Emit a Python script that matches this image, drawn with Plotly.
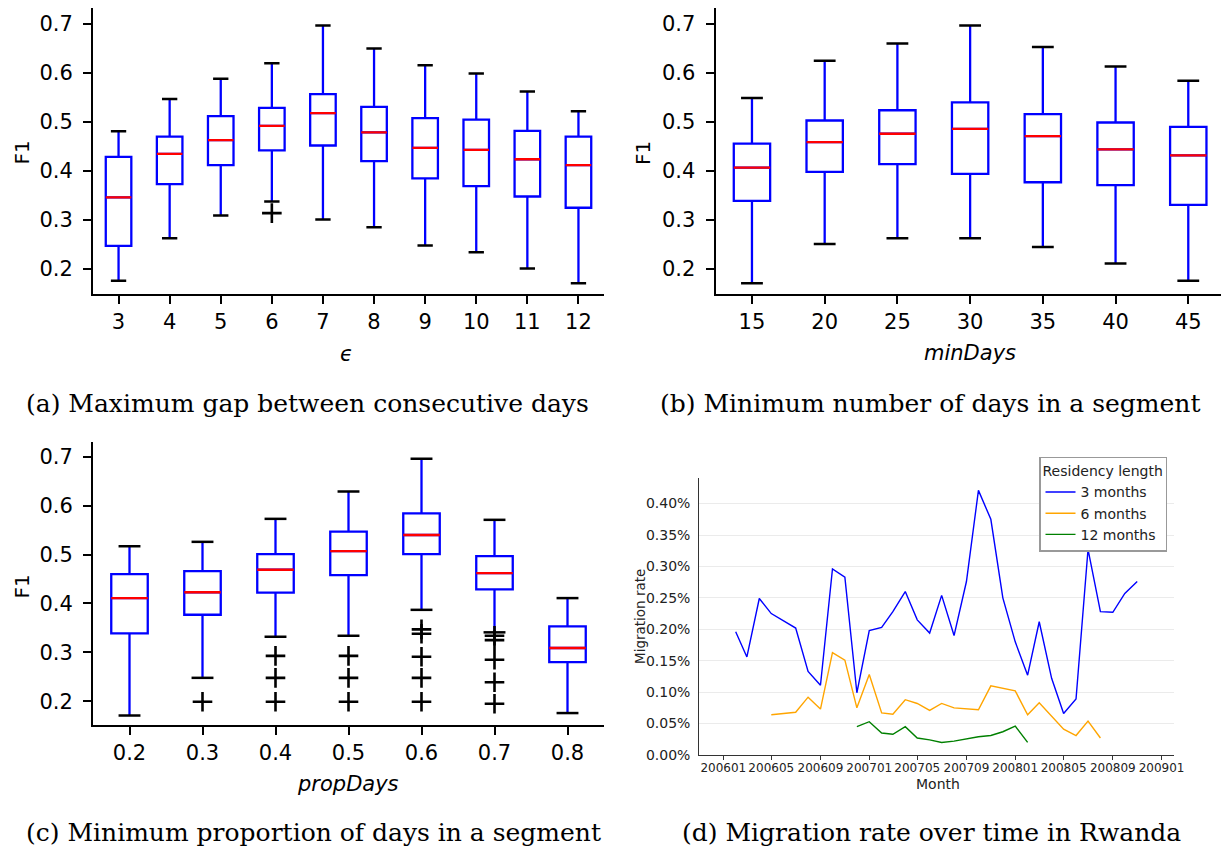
import plotly.graph_objects as go
import pandas as pd

W, H = 1221, 850

# ---------------- data ----------------
# (a) epsilon
eps_labels = ["3", "4", "5", "6", "7", "8", "9", "10", "11", "12"]
eps_upper = [0.481, 0.547, 0.588, 0.620, 0.697, 0.650, 0.616, 0.599, 0.562, 0.522]
eps_q3 = [0.429, 0.470, 0.512, 0.529, 0.557, 0.531, 0.508, 0.505, 0.482, 0.470]
eps_median = [0.346, 0.435, 0.463, 0.492, 0.518, 0.479, 0.447, 0.443, 0.424, 0.412]
eps_q1 = [0.247, 0.373, 0.412, 0.442, 0.452, 0.420, 0.385, 0.369, 0.348, 0.325]
eps_lower = [0.176, 0.263, 0.309, 0.338, 0.301, 0.285, 0.248, 0.234, 0.201, 0.171]
eps_outliers = [[], [], [], [0.314], [], [], [], [], [], []]

# (b) minDays
md_labels = ["15", "20", "25", "30", "35", "40", "45"]
md_upper = [0.549, 0.625, 0.660, 0.697, 0.653, 0.613, 0.584]
md_q3 = [0.456, 0.503, 0.524, 0.540, 0.516, 0.499, 0.490]
md_median = [0.407, 0.459, 0.476, 0.486, 0.471, 0.444, 0.432]
md_q1 = [0.339, 0.398, 0.414, 0.394, 0.377, 0.371, 0.331]
md_lower = [0.171, 0.251, 0.263, 0.263, 0.245, 0.211, 0.176]
md_outliers = [[], [], [], [], [], [], []]

# (c) propDays
pd_labels = ["0.2", "0.3", "0.4", "0.5", "0.6", "0.7", "0.8"]
pd_upper = [0.517, 0.526, 0.573, 0.629, 0.696, 0.571, 0.411]
pd_q3 = [0.460, 0.466, 0.501, 0.547, 0.584, 0.497, 0.353]
pd_median = [0.411, 0.423, 0.469, 0.507, 0.540, 0.462, 0.309]
pd_q1 = [0.339, 0.377, 0.422, 0.458, 0.501, 0.429, 0.280]
pd_lower = [0.171, 0.248, 0.332, 0.334, 0.387, 0.341, 0.176]
pd_outliers = [[], [0.199], [0.293, 0.248, 0.199], [0.293, 0.248, 0.199],
               [0.347, 0.338, 0.291, 0.248, 0.199],
               [0.334, 0.325, 0.285, 0.239, 0.195], []]

# (d) migration rate (%)
months_3 = ["200602", "200603", "200604", "200605", "200607", "200608", "200609",
            "200610", "200611", "200612", "200701", "200702", "200703", "200704",
            "200705", "200706", "200707", "200708", "200709", "200710", "200711",
            "200712", "200801", "200802", "200803", "200804", "200805", "200806",
            "200807", "200808", "200809", "200810", "200811"]
rate_3 = [0.196, 0.156, 0.249, 0.225, 0.202, 0.133, 0.111, 0.296, 0.283, 0.099,
          0.198, 0.203, 0.228, 0.260, 0.215, 0.194, 0.254, 0.190, 0.276, 0.421,
          0.375, 0.250, 0.180, 0.127, 0.212, 0.122, 0.066, 0.089, 0.327, 0.228,
          0.227, 0.257, 0.276]
months_6 = ["200605", "200607", "200608", "200609", "200610", "200611", "200612",
            "200701", "200702", "200703", "200704", "200705", "200706", "200707",
            "200708", "200710", "200711", "200801", "200802", "200803", "200805",
            "200806", "200807", "200808"]
rate_6 = [0.064, 0.068, 0.092, 0.073, 0.163, 0.151, 0.075, 0.128, 0.067, 0.065,
          0.088, 0.082, 0.071, 0.082, 0.075, 0.072, 0.110, 0.102, 0.064, 0.083,
          0.041, 0.031, 0.054, 0.027]
months_12 = ["200612", "200701", "200702", "200703", "200704", "200705", "200706",
             "200707", "200708", "200710", "200711", "200712", "200801", "200802"]
rate_12 = [0.045, 0.053, 0.035, 0.033, 0.045, 0.027, 0.024, 0.020, 0.022, 0.029,
           0.031, 0.037, 0.046, 0.020]

captions = ["(a) Maximum gap between consecutive days",
            "(b) Minimum number of days in a segment",
            "(c) Minimum proportion of days in a segment",
            "(d) Migration rate over time in Rwanda"]

# ---------------- helpers ----------------
BOX_W = 0.5
CAP_W = 0.3
SANS = "DejaVu Sans"
SERIF = "DejaVu Serif"


def px_x(p):
    return p / W


def px_y(p):
    return 1 - p / H


fig = go.Figure()


def add_boxes(xa, ya, labels, lower, q1, med, q3, upper, outliers):
    pos = list(range(1, len(labels) + 1))
    fig.add_trace(go.Box(
        x=pos, q1=q1, median=med, q3=q3, lowerfence=lower, upperfence=upper,
        width=BOX_W, whiskerwidth=0, boxpoints=False,
        line=dict(color="#0000ff", width=2.3), fillcolor="rgba(0,0,0,0)",
        xaxis=xa, yaxis=ya, showlegend=False, hoverinfo="skip"))
    # red medians
    mx, my = [], []
    for p, m in zip(pos, med):
        mx += [p - BOX_W / 2, p + BOX_W / 2, None]
        my += [m, m, None]
    fig.add_trace(go.Scatter(x=mx, y=my, mode="lines",
                             line=dict(color="#ff0000", width=2.3),
                             xaxis=xa, yaxis=ya, showlegend=False, hoverinfo="skip"))
    # black caps
    cx, cy = [], []
    for p, lo, hi in zip(pos, lower, upper):
        cx += [p - CAP_W / 2, p + CAP_W / 2, None, p - CAP_W / 2, p + CAP_W / 2, None]
        cy += [lo, lo, None, hi, hi, None]
    fig.add_trace(go.Scatter(x=cx, y=cy, mode="lines",
                             line=dict(color="#000000", width=2.5),
                             xaxis=xa, yaxis=ya, showlegend=False, hoverinfo="skip"))
    # outliers
    ox, oy = [], []
    for p, outs in zip(pos, outliers):
        for v in outs:
            ox.append(p)
            oy.append(v)
    if ox:
        fig.add_trace(go.Scatter(x=ox, y=oy, mode="markers",
                                 marker=dict(symbol="cross-thin", size=14,
                                             line=dict(color="#000000", width=2.6)),
                                 xaxis=xa, yaxis=ya, showlegend=False, hoverinfo="skip"))
    return pos


pos_a = add_boxes("x", "y", eps_labels, eps_lower, eps_q1, eps_median, eps_q3, eps_upper, eps_outliers)
pos_b = add_boxes("x2", "y2", md_labels, md_lower, md_q1, md_median, md_q3, md_upper, md_outliers)
pos_c = add_boxes("x3", "y3", pd_labels, pd_lower, pd_q1, pd_median, pd_q3, pd_upper, pd_outliers)

# (d) lines
series = [("3 months", months_3, rate_3, "#0000ff"),
          ("6 months", months_6, rate_6, "#ffa500"),
          ("12 months", months_12, rate_12, "#008000")]
for name, mths, vals, col in series:
    dates = pd.to_datetime(mths, format="%Y%m")
    fig.add_trace(go.Scatter(x=dates, y=vals, mode="lines", name=name,
                             line=dict(color=col, width=1.4),
                             xaxis="x4", yaxis="y4"))

box_axis_common = dict(showline=True, linecolor="black", linewidth=2,
                       ticks="outside", ticklen=8, tickwidth=2, tickcolor="black",
                       showgrid=False, zeroline=False, automargin=False,
                       tickfont=dict(family=SANS, size=21, color="black"))

yticks = [0.2, 0.3, 0.4, 0.5, 0.6, 0.7]
yticktext = ["0.2", "0.3", "0.4", "0.5", "0.6", "0.7"]

fig.update_layout(
    width=W, height=H, margin=dict(l=0, r=0, t=0, b=0, autoexpand=False),
    paper_bgcolor="white", plot_bgcolor="white",
    xaxis=dict(domain=[px_x(93), px_x(604)], range=[0.5, 10.5], anchor="y",
               tickmode="array", tickvals=pos_a, ticktext=eps_labels, **box_axis_common),
    yaxis=dict(domain=[px_y(293.7), px_y(8.3)], range=[0.1496, 0.732], anchor="x",
               tickmode="array", tickvals=yticks, ticktext=yticktext,
               ticklabelstandoff=6, **box_axis_common),
    xaxis2=dict(domain=[px_x(715.6), 1.0], range=[0.5, 7.45], anchor="y2",
                tickmode="array", tickvals=pos_b, ticktext=md_labels, **box_axis_common),
    yaxis2=dict(domain=[px_y(293.7), px_y(8.3)], range=[0.1496, 0.732], anchor="x2",
                tickmode="array", tickvals=yticks, ticktext=yticktext,
                ticklabelstandoff=6, **box_axis_common),
    xaxis3=dict(domain=[px_x(93), px_x(604)], range=[0.5, 7.5], anchor="y3",
                tickmode="array", tickvals=pos_c, ticktext=pd_labels, **box_axis_common),
    yaxis3=dict(domain=[px_y(725), px_y(441.7)], range=[0.1516, 0.7307], anchor="x3",
                tickmode="array", tickvals=yticks, ticktext=yticktext,
                ticklabelstandoff=6, **box_axis_common),
    xaxis4=dict(domain=[px_x(699.3), px_x(1174)], anchor="y4", type="date",
                range=["2005-11-02", "2009-02-01"], tick0="2006-01-01", dtick="M4",
                tickformat="%Y%m", tickangle=0, ticks="outside", ticklen=4, tickwidth=1,
                tickcolor="#333333", showline=True, linecolor="#333333", linewidth=1.2,
                showgrid=False, zeroline=False, automargin=False, ticklabelstandoff=-3,
                tickfont=dict(family=SANS, size=12, color="#222222")),
    yaxis4=dict(domain=[px_y(755), px_y(478)], anchor="x4", range=[0, 0.4407],
                tick0=0, dtick=0.05, tickformat=".2f", ticksuffix="%",
                ticks="", showline=True, linecolor="#333333", linewidth=1.2,
                showgrid=True, gridcolor="#ebebeb", gridwidth=1, zeroline=False,
                ticklabelstandoff=5, automargin=False,
                tickfont=dict(family=SANS, size=14, color="#222222")),
    legend=dict(x=px_x(1039), y=px_y(456.7), xanchor="left", yanchor="top",
                title=dict(text="Residency length", font=dict(family=SANS, size=14, color="#222")),
                font=dict(family=SANS, size=14, color="#222"),
                bordercolor="#999999", borderwidth=1.5, bgcolor="white",
                tracegroupgap=0, itemwidth=30),
)


def ann(text, x, y, size, family=SANS, angle=0, color="black"):
    fig.add_annotation(text=text, x=px_x(x), y=px_y(y), xref="paper", yref="paper",
                       xanchor="center", yanchor="middle", showarrow=False,
                       textangle=angle, font=dict(family=family, size=size, color=color))


# axis titles
ann("F1", 21.5, 153, 20, angle=-90)
ann("F1", 643, 153, 20, angle=-90)
ann("F1", 21.5, 587, 20, angle=-90)
ann("<i>ϵ</i>", 346.7, 354, 21)
ann("<i>minDays</i>", 970, 353, 21)
ann("<i>propDays</i>", 348, 784, 21)
ann("Month", 937.7, 784, 14, color="#222")
ann("Migration rate", 640, 617, 13.5, angle=-90, color="#222")

# captions
ann(captions[0], 307.5, 403, 25, family=SERIF)
ann(captions[1], 930, 403, 25, family=SERIF)
ann(captions[2], 313, 832, 25, family=SERIF)
ann(captions[3], 931, 832, 25, family=SERIF)

fig.write_html("out.html")
